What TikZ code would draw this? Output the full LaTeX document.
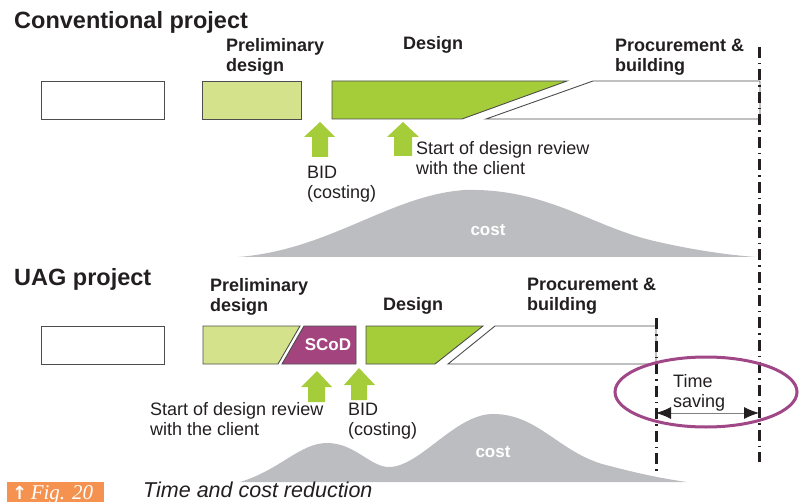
\documentclass[tikz,border=0pt]{standalone}
\usepackage{fontspec}
\setmainfont{Liberation Sans}
\newfontfamily\capserif{Liberation Serif}
\newfontfamily\arrowfont{DejaVu Sans}
\usetikzlibrary{arrows.meta}
\definecolor{lgreen}{HTML}{D4E38B}
\definecolor{dgreen}{HTML}{A5CD39}
\definecolor{scodp}{HTML}{A3447F}
\definecolor{ellp}{HTML}{A04787}
\definecolor{costgray}{HTML}{BCBDC0}
\definecolor{capor}{HTML}{F5924F}
\definecolor{ink}{HTML}{231F20}
\definecolor{edge}{HTML}{4D4D4D}
\tikzset{
  title/.style={anchor=base west, inner sep=0, font=\fontsize{23.5}{26}\selectfont\bfseries, text=ink},
  phase/.style={anchor=base west, inner sep=0, align=left, font=\fontsize{18}{20}\selectfont\bfseries, text=ink},
  note/.style={anchor=base west, inner sep=0, align=left, font=\fontsize{18}{20}\selectfont, text=ink},
  whitelbl/.style={inner sep=0, font=\fontsize{17}{20}\selectfont\bfseries, text=white},
  bar/.style={draw=edge, line width=0.9pt},
  uparrow/.style={fill=dgreen, draw=none},
  timeline/.style={draw=ink, line width=3pt, dash pattern=on 11pt off 5pt on 1.5pt off 5pt},
}
\begin{document}
\begin{tikzpicture}[x=1pt,y=-1pt]
\useasboundingbox (0,0) rectangle (802,502);
\clip (0,0) rectangle (802,502);
% ---------- Conventional project ----------
\node[title] (t1) at (14,29) {Conventional project};
\draw[bar, fill=white] (41,81) rectangle (164,119);
\draw[bar, fill=lgreen] (202,81) rectangle (301,119);
\draw[bar, fill=dgreen] (332,81) -- (567,81) -- (462,119) -- (332,119) -- cycle;
\draw[bar, fill=white] (593,81) -- (760,81) -- (760,119) -- (486,119) -- cycle;
\node[phase] (p1) at (226,72) {Preliminary\\design};
\node[phase] (d1) at (403,50) {Design};
\node[phase] (b1) at (615,72) {Procurement \&\\building};
% arrows
\fill[uparrow] (320,122) -- (335,137) -- (328,137) -- (328,157) -- (312,157) -- (312,137) -- (304,137) -- cycle;
\fill[uparrow] (403,122) -- (419,137) -- (412,137) -- (412,156) -- (394,156) -- (394,137) -- (387,137) -- cycle;
\node[note] (bid1) at (307,199) {BID\\(costing)};
\node[note] (rev1) at (416,175) {Start of design review\\with the client};
% cost curve
\fill[costgray] (238,257) .. controls (330,250) and (390,195) .. (465,190)
  .. controls (545,188) and (590,225) .. (650,240)
  .. controls (700,252) and (740,256) .. (757,257) -- cycle;
\node[whitelbl] (c1) at (488,230) {cost};
% ---------- UAG project ----------
\node[title] (t2) at (14,285) {UAG project};
\draw[bar, fill=white] (41,326) rectangle (164,364);
\draw[bar, fill=lgreen] (203,326) -- (300,326) -- (278,364) -- (203,364) -- cycle;
\draw[bar, fill=scodp] (304,326) -- (356,326) -- (356,364) -- (282,364) -- cycle;
\draw[bar, fill=dgreen] (366,326) -- (483,326) -- (435,364) -- (366,364) -- cycle;
\draw[bar, fill=white] (495,326) -- (656,326) -- (656,364) -- (448,364) -- cycle;
\node[whitelbl] (scod) at (328,345) {SCoD};
\node[phase] (p2) at (210,311) {Preliminary\\design};
\node[phase] (d2) at (383,310) {Design};
\node[phase] (b2) at (527,310) {Procurement \&\\building};
\fill[uparrow] (317,371) -- (332,387) -- (325,387) -- (325,402) -- (308,402) -- (308,387) -- (301,387) -- cycle;
\fill[uparrow] (359,368) -- (375,385) -- (367,385) -- (367,400) -- (351,400) -- (351,385) -- (344,385) -- cycle;
\node[note] (rev2) at (150,435) {Start of design review\\with the client};
\node[note] (bid2) at (348,435) {BID\\(costing)};
% cost curve bottom
\fill[costgray] (240,482) .. controls (280,470) and (300,443) .. (327,443)
  .. controls (355,443) and (370,467) .. (389,467)
  .. controls (420,467) and (455,414) .. (493,414)
  .. controls (540,414) and (560,455) .. (610,466)
  .. controls (640,474) and (665,479) .. (687,482) -- cycle;
\node[whitelbl] (c2) at (493,452) {cost};
% time lines
\coordinate (l1top) at (759,47);
\coordinate (l1bot) at (759,462);
\coordinate (l2top) at (656,318);
\coordinate (l2bot) at (656,473);
\draw[timeline] (l1top) -- (l1bot);
\draw[timeline] (l2top) -- (l2bot);
\coordinate (ts1) at (656,413);
\coordinate (ts2) at (759,413);
\draw[draw=gray, line width=0.8pt, {Latex[length=15pt,width=12pt,color=ink]}-{Latex[length=15pt,width=12pt,color=ink]}] (ts1) -- (ts2);
\node[note] (ts) at (673,407) {Time\\saving};
\draw[draw=ellp, line width=3pt] (706,392) ellipse [x radius=91, y radius=35];
% ---------- caption ----------
\fill[capor] (7,482) rectangle (104,510);
\node[anchor=base west, inner sep=0, text=white, font=\fontsize{21}{24}\selectfont] (fig) at (12,499) {{\arrowfont\bfseries\fontsize{18}{20}\selectfont ↑}\,{\capserif\itshape Fig. 20}};
\node[anchor=base west, inner sep=0, text=ink, font=\fontsize{21.5}{24}\selectfont\itshape] (cap) at (143,497) {Time and cost reduction};
\end{tikzpicture}
\end{document}
